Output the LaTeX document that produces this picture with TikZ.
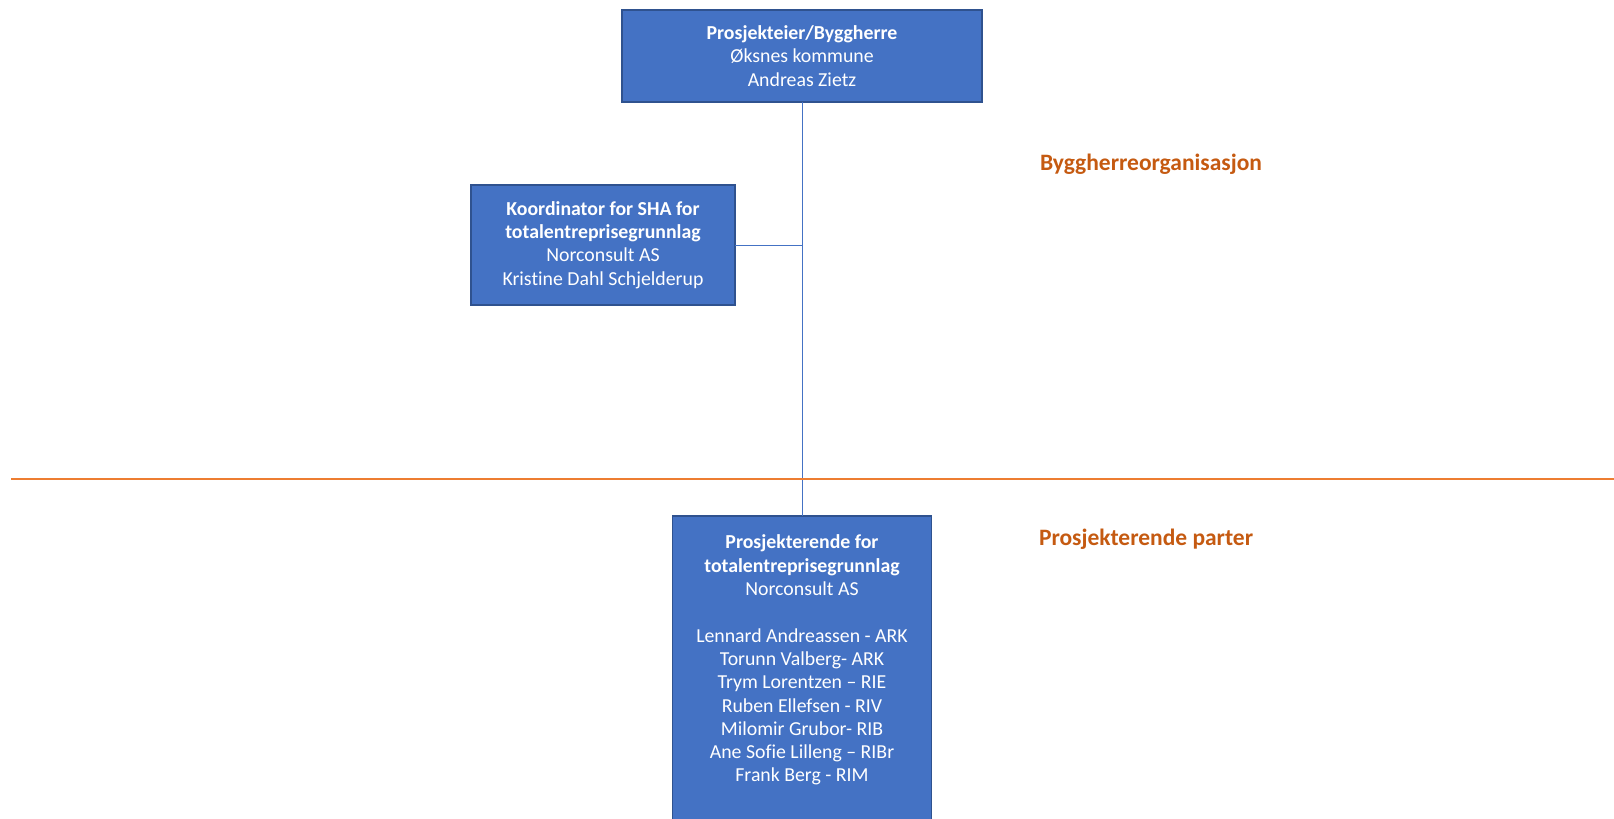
\documentclass[tikz,border=0pt]{standalone}
\usepackage{fontspec}
\setmainfont[Ligatures={NoCommon}]{Carlito}
\definecolor{boxblue}{HTML}{4472C4}
\definecolor{boxedge}{HTML}{2F528F}
\definecolor{sepline}{HTML}{ED7D31}
\definecolor{labelorange}{HTML}{C55A11}
\begin{document}
\begin{tikzpicture}[x=1pt,y=-1pt,inner sep=0pt,outer sep=0pt,
orgbox/.style={draw=boxedge,fill=boxblue,rectangle,line width=1.2pt},
orgtext/.style={text=white,align=center,font=\fontsize{19.8}{23.3}\selectfont},
grouplabel/.style={text=labelorange,anchor=west,font=\fontsize{23.5}{27}\selectfont\bfseries},
link/.style={draw=boxblue,line width=1pt}]
\useasboundingbox (0,0) rectangle (1614,819);
\draw (802,56) node[orgbox,orgtext,minimum width=360pt,minimum height=92pt] (eier)
  {\textbf{Prosjekteier/Byggherre}\\Øksnes kommune\\Andreas Zietz};
\draw (603,245) node[orgbox,orgtext,minimum width=264pt,minimum height=120pt] (koord)
  {\textbf{Koordinator for SHA for}\\\textbf{totalentreprisegrunnlag}\\Norconsult AS\\Kristine Dahl Schjelderup};
\draw (802,516) node[orgbox,anchor=north,minimum width=259pt,minimum height=330pt] (prosj) {};
\node[orgtext,anchor=north] (prosjtxt) at ([yshift=-19pt]prosj.north)
  {\textbf{Prosjekterende for}\\\textbf{totalentreprisegrunnlag}\\Norconsult AS\\[23.3pt]
   Lennard Andreassen - ARK\\Torunn Valberg- ARK\\Trym Lorentzen – RIE\\Ruben Ellefsen - RIV\\
   Milomir Grubor- RIB\\Ane Sofie Lilleng – RIBr\\Frank Berg - RIM};
\draw[link] (eier.south) -- (prosj.north);
\draw[link] (koord.east) -- (koord.east -| eier.south);
\draw[sepline,line width=2.5pt] (11,479) -- (1614,479);
\node[grouplabel] (byggherre) at (1040,164) {Byggherreorganisasjon};
\node[grouplabel] (parter) at (1039,539) {Prosjekterende parter};
\end{tikzpicture}
\end{document}
